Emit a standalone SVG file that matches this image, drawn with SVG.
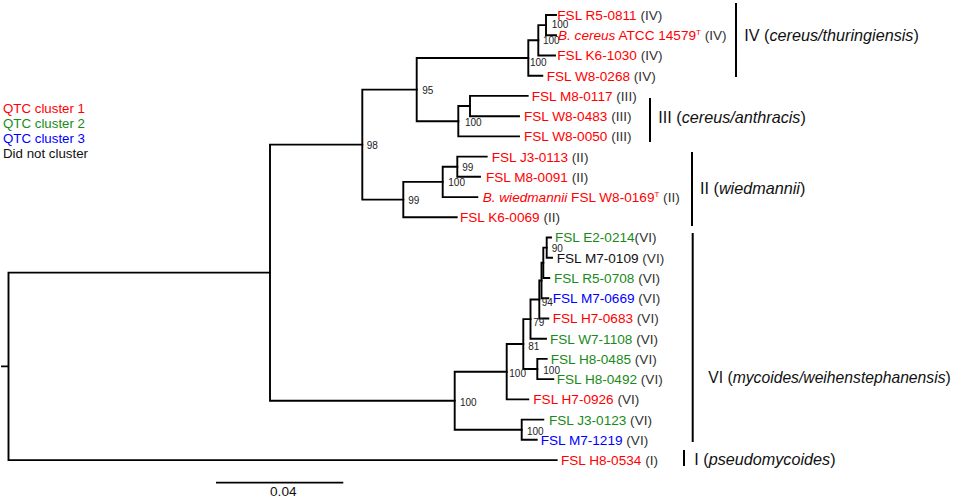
<svg xmlns="http://www.w3.org/2000/svg" width="957" height="497" viewBox="0 0 957 497">
<style>
text{font-family:"Liberation Sans",Arial,sans-serif}
.lf{font-size:13.6px}
.r{fill:#ff0000}.g{fill:#1a8a1a}.b{fill:#0000ff}.k{fill:#111}
.p{fill:#333}
.bs{font-size:10px;fill:#222}
.cl{font-size:16.2px;fill:#111}
.lg{font-size:13.3px}
.tree{fill:none;stroke:#000;stroke-width:1.9;stroke-linecap:square}
.bar{stroke:#000;stroke-width:2}
.sup{font-size:8px}
</style>
<rect width="957" height="497" fill="#fff"/>
<g id="legend" class="lg">
<text x="3" y="113" class="r">QTC cluster 1</text>
<text x="3" y="128" class="g">QTC cluster 2</text>
<text x="3" y="143" class="b">QTC cluster 3</text>
<text x="3" y="158" class="k">Did not cluster</text>
</g>
<g id="connectors" class="tree">
<path d="M8.5,272.6V460.1M2,366.4H8.5M8.5,272.6H270M8.5,460.1H556.7"/>
<path d="M270,144.6V400.7M270,144.6H362.3M270,400.7H454.7"/>
<path d="M362.3,89.6V199.6M362.3,89.6H416.7M362.3,199.6H403.3"/>
<path d="M416.7,58V121.2M416.7,58H528.3M416.7,121.2H458.3"/>
<path d="M528.3,40.3V75.7M528.3,40.3H538.3M528.3,75.7H542.3"/>
<path d="M538.3,25.1V55.5M538.3,25.1H546M538.3,55.5H555"/>
<path d="M546,15V35.2M546,15H556M546,35.2H556"/>
<path d="M458.3,106.05V136.4M458.3,106.05H470M458.3,136.4H519"/>
<path d="M470,95.9V116.2M470,95.9H527.7M470,116.2H519"/>
<path d="M403.3,181.9V217.3M403.3,181.9H442.7M403.3,217.3H456.7"/>
<path d="M442.7,166.7V197.1M442.7,166.7H457.3M442.7,197.1H477.3"/>
<path d="M457.3,156.6V176.8M457.3,156.6H486.7M457.3,176.8H480"/>
<path d="M454.7,371.7V429.7M454.7,371.7H506.7M454.7,429.7H521.7"/>
<path d="M506.7,344V399.4M506.7,344H523.3M506.7,399.4H528.3"/>
<path d="M523.3,319.1V369M523.3,319.1H530.5M523.3,369H537.3"/>
<path d="M537.3,358.9V379.1M537.3,358.9H546.7M537.3,379.1H553.3"/>
<path d="M530.5,299.5V338.7M530.5,299.5H539.3M530.5,338.7H546"/>
<path d="M539.3,280.5V318.5M539.3,280.5H541.5M539.3,318.5H548.3"/>
<path d="M541.5,262.8V298.2M541.5,262.8H543.3M541.5,298.2H548.3"/>
<path d="M543.3,247.65V278M543.3,247.65H546.7M543.3,278H549.3"/>
<path d="M546.7,237.5V257.8M546.7,237.5H551M546.7,257.8H552"/>
<path d="M521.7,419.6V439.8M521.7,419.6H543.3M521.7,439.8H536.7"/>
</g>
<g id="bootstrap" class="bs">
<text x="551.7" y="28.4">100</text>
<text x="543" y="43.6">100</text>
<text x="530" y="65.6">100</text>
<text x="422.3" y="94.3">95</text>
<text x="465" y="125.9">100</text>
<text x="366.7" y="148.6">98</text>
<text x="408.3" y="203.9">99</text>
<text x="448.3" y="186.3">100</text>
<text x="462.3" y="170.9">99</text>
<text x="551.7" y="251.9">90</text>
<text x="541.7" y="306.3">94</text>
<text x="533.3" y="325.6">79</text>
<text x="528.3" y="350.3">81</text>
<text x="543.3" y="374.3">100</text>
<text x="509.3" y="376.9">100</text>
<text x="527" y="435.3">100</text>
<text x="460" y="405.6">100</text>
</g>
<g class="lf">
<g id="R5-0811"><text x="557.3" y="19.9" class="r">FSL R5-0811 <tspan class="p">(IV)</tspan></text></g>
<g id="ATCC14579"><text x="558" y="40.1" class="r"><tspan font-style="italic">B. cereus</tspan> ATCC 14579<tspan class="sup" dy="-5">T</tspan><tspan class="p" dy="5"> (IV)</tspan></text></g>
<g id="K6-1030"><text x="557.3" y="60.4" class="r">FSL K6-1030 <tspan class="p">(IV)</tspan></text></g>
<g id="W8-0268"><text x="546.7" y="80.6" class="r">FSL W8-0268 <tspan class="p">(IV)</tspan></text></g>
<g id="M8-0117"><text x="531.7" y="100.8" class="r">FSL M8-0117 <tspan class="p">(III)</tspan></text></g>
<g id="W8-0483"><text x="524" y="121.1" class="r">FSL W8-0483 <tspan class="p">(III)</tspan></text></g>
<g id="W8-0050"><text x="524" y="141.3" class="r">FSL W8-0050 <tspan class="p">(III)</tspan></text></g>
<g id="J3-0113"><text x="491.7" y="161.5" class="r">FSL J3-0113 <tspan class="p">(II)</tspan></text></g>
<g id="M8-0091"><text x="486" y="181.7" class="r">FSL M8-0091 <tspan class="p">(II)</tspan></text></g>
<g id="W8-0169"><text x="482.7" y="202" class="r"><tspan font-style="italic">B. wiedmannii</tspan> FSL W8-0169<tspan class="sup" dy="-5">T</tspan><tspan class="p" dy="5"> (II)</tspan></text></g>
<g id="K6-0069"><text x="460" y="222.2" class="r">FSL K6-0069 <tspan class="p">(II)</tspan></text></g>
<g id="E2-0214"><text x="555" y="242.4" class="g">FSL E2-0214<tspan class="p">(VI)</tspan></text></g>
<g id="M7-0109"><text x="556.7" y="262.7" class="k">FSL M7-0109 <tspan class="p">(VI)</tspan></text></g>
<g id="R5-0708"><text x="554" y="282.9" class="g">FSL R5-0708 <tspan class="p">(VI)</tspan></text></g>
<g id="M7-0669"><text x="552.7" y="303.1" class="b">FSL M7-0669 <tspan class="p">(VI)</tspan></text></g>
<g id="H7-0683"><text x="552.7" y="323.4" class="r">FSL H7-0683 <tspan class="p">(VI)</tspan></text></g>
<g id="W7-1108"><text x="550" y="343.6" class="g">FSL W7-1108 <tspan class="p">(VI)</tspan></text></g>
<g id="H8-0485"><text x="550.7" y="363.8" class="g">FSL H8-0485 <tspan class="p">(VI)</tspan></text></g>
<g id="H8-0492"><text x="556.7" y="384" class="g">FSL H8-0492 <tspan class="p">(VI)</tspan></text></g>
<g id="H7-0926"><text x="533.3" y="404.3" class="r">FSL H7-0926 <tspan class="p">(VI)</tspan></text></g>
<g id="J3-0123"><text x="549" y="424.5" class="g">FSL J3-0123 <tspan class="p">(VI)</tspan></text></g>
<g id="M7-1219"><text x="540.7" y="444.7" class="b">FSL M7-1219 <tspan class="p">(VI)</tspan></text></g>
<g id="H8-0534"><text x="561" y="465" class="r">FSL H8-0534 <tspan class="p">(I)</tspan></text></g>
</g>
<g id="clades" class="cl">
<g id="cladeIV"><line class="bar" x1="736" y1="3" x2="736" y2="77"/><text x="744.3" y="41">IV (<tspan font-style="italic">cereus/thuringiensis</tspan>)</text></g>
<g id="cladeIII"><line class="bar" x1="650" y1="98" x2="650" y2="142"/><text x="658.3" y="122.6">III (<tspan font-style="italic">cereus/anthracis</tspan>)</text></g>
<g id="cladeII"><line class="bar" x1="692" y1="152" x2="692" y2="226"/><text x="700" y="194">II (<tspan font-style="italic">wiedmannii</tspan>)</text></g>
<g id="cladeVI"><line class="bar" x1="692.7" y1="233" x2="692.7" y2="442"/><text x="708.3" y="382.6" style="font-size:15.7px">VI (<tspan font-style="italic">mycoides/weihenstephanensis</tspan>)</text></g>
<g id="cladeI"><line class="bar" x1="684" y1="450" x2="684" y2="466"/><text x="694.3" y="465">I (<tspan font-style="italic">pseudomycoides</tspan>)</text></g>
</g>
<g id="scale">
<line class="bar" x1="216" y1="482.7" x2="343.3" y2="482.7" style="stroke-width:1.8"/>
<text x="283.3" y="496" text-anchor="middle" font-size="13.6" fill="#111">0.04</text>
</g>
</svg>
